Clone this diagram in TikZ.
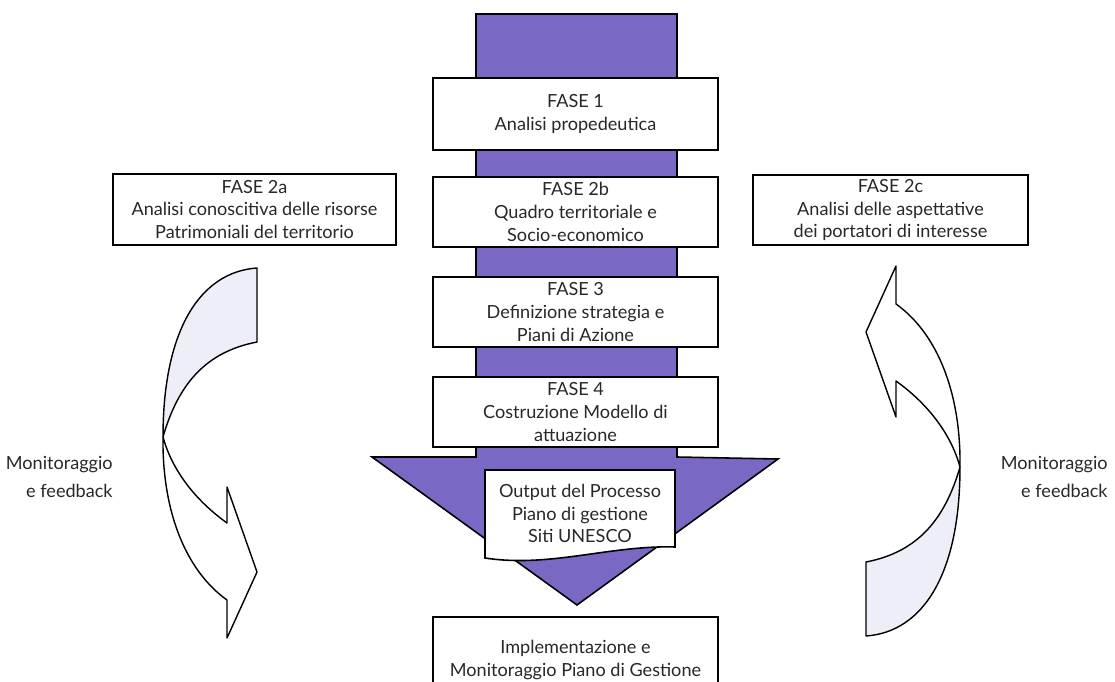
\documentclass[tikz,border=0pt]{standalone}
\usepackage{fontspec}
\setmainfont{Lato}
\definecolor{viola}{RGB}{122,104,196}
\definecolor{lilla}{RGB}{238,238,248}
\definecolor{testo}{RGB}{40,40,40}
\begin{document}
\begin{tikzpicture}[x=0.02cm,y=-0.02cm]
\tikzstyle{fase}=[rectangle, draw=black, fill=white, line width=0.9pt, align=center, text=testo, inner sep=0pt, font=\fontsize{10.3}{13}\selectfont]
\tikzstyle{giro}=[draw=black, line width=0.8pt, line join=round]
\tikzstyle{nota}=[align=right, anchor=east, inner sep=0pt, text=testo, font=\fontsize{10.3}{16}\selectfont]

\clip (0,0) rectangle (1115,682);

% freccia centrale
\draw [line width=0.9pt, fill=viola] (476,14) -- (677,14) -- (677,457) -- (778,459)
  -- (577,605) -- (372,457) -- (476,457) -- cycle;

\node [fase, minimum width=5.7cm, minimum height=1.44cm] (f1) at (575.5,114) {FASE 1\\Analisi propedeutica};
\foreach \n/\y/\t in {f2b/212/{FASE 2b\\Quadro territoriale e\\Socio-economico},
  f3/312/{FASE 3\\Definizione strategia e\\Piani di Azione},
  f4/412/{FASE 4\\Costruzione Modello di\\attuazione}} {
\node [fase, minimum width=5.7cm, minimum height=1.39cm] (\n) at (575.5,\y) {\t};
}
\node [fase, minimum width=5.66cm, minimum height=1.42cm] (f2a) at (254.5,209.5)
  {FASE 2a\\Analisi conoscitiva delle risorse\\Patrimoniali del territorio};
\node [fase, minimum width=5.5cm, minimum height=1.4cm] (f2c) at (890.5,210)
  {FASE 2c\\Analisi delle aspettative\\dei portatori di interesse};

% output con bordo ondulato
\draw [line width=0.9pt, fill=white] (485,470) -- (675,470) -- (675,547)
  .. controls (610,545) and (550,568) .. (485,558) -- cycle;
\node [fase, draw=none, fill=none] (out) at (580,513.5) {Output del Processo\\Piano di gestione\\Siti UNESCO};

\node [fase, minimum width=5.7cm, minimum height=1.72cm] (impl) at (575.5,660)
  {Implementazione e\\Monitoraggio Piano di Gestione};

% frecce curve
\foreach \r in {0,180} {
\begin{scope}[rotate around={\r:(561.5,452)}]
\path [giro, fill=lilla] (257,268) .. controls (200,272) and (163,330) .. (163,437)
  .. controls (178,385) and (205,352) .. (257,342) -- cycle;
\path [giro, fill=white] (163,437) .. controls (162,510) and (185,570) .. (227,600)
  -- (227,638) -- (257,572) -- (227,487) -- (227,523)
  .. controls (195,500) and (172,470) .. (163,437) -- cycle;
\end{scope}
}

\node [nota] (mon1) at (113,477) {Monitoraggio\\e feedback};
\node [nota] (mon2) at (1108,477) {Monitoraggio\\e feedback};

\end{tikzpicture}
\end{document}
